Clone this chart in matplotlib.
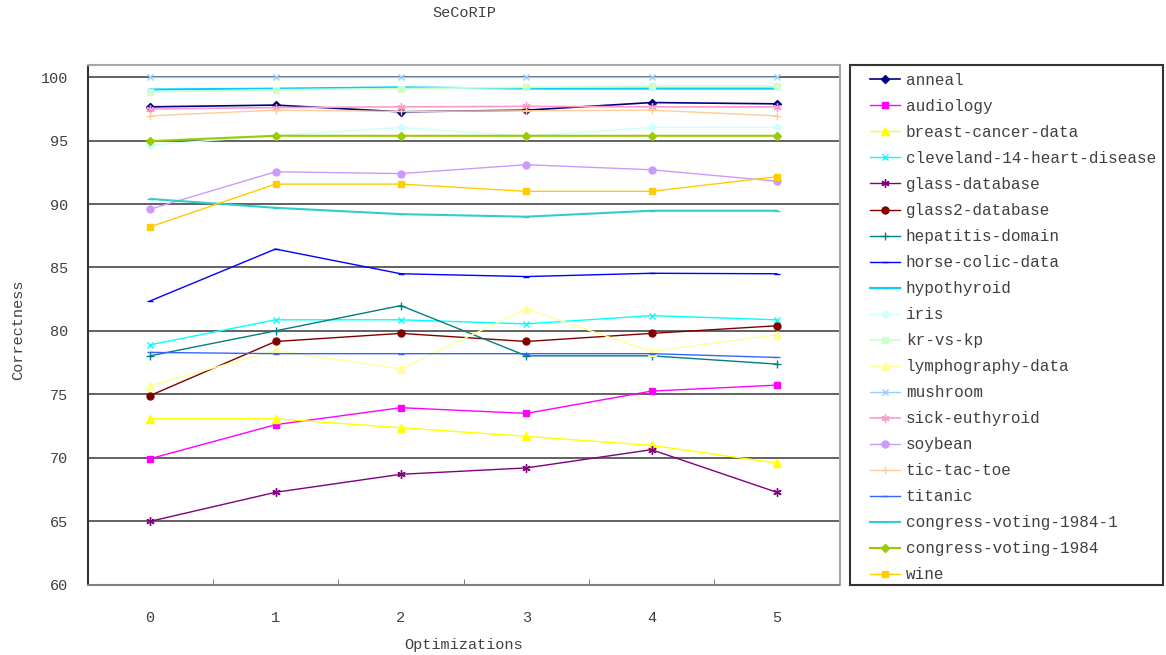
import matplotlib
matplotlib.use("Agg")
import matplotlib.pyplot as plt
from matplotlib.patches import Rectangle

# data
optimizations = [0, 1, 2, 3, 4, 5]

names = ["anneal", "audiology", "breast-cancer-data", "cleveland-14-heart-disease",
         "glass-database", "glass2-database", "hepatitis-domain", "horse-colic-data",
         "hypothyroid", "iris", "kr-vs-kp", "lymphography-data", "mushroom",
         "sick-euthyroid", "soybean", "tic-tac-toe", "titanic",
         "congress-voting-1984-1", "congress-voting-1984", "wine"]

anneal = [97.66, 97.8, 97.27, 97.4, 98.0, 97.9]
audiology = [69.92, 72.6, 73.94, 73.49, 75.25, 75.72]
breast_cancer = [73.07, 73.07, 72.36, 71.68, 70.97, 69.58]
cleveland = [78.9, 80.87, 80.87, 80.55, 81.2, 80.87]
glass = [64.98, 67.27, 68.69, 69.19, 70.63, 67.27]
glass2 = [74.9, 79.16, 79.8, 79.16, 79.8, 80.4]
hepatitis = [78.03, 80.0, 81.99, 78.03, 78.03, 77.38]
horse_colic = [82.36, 86.45, 84.5, 84.28, 84.54, 84.5]
hypothyroid = [99.03, 99.1, 99.2, 99.1, 99.1, 99.1]
iris = [94.65, 95.4, 96.04, 95.35, 96.04, 96.04]
kr_vs_kp = [98.85, 99.0, 99.1, 99.2, 99.3, 99.3]
lymphography = [75.67, 78.45, 77.0, 81.73, 78.37, 79.7]
mushroom = [100, 100, 100, 100, 100, 100]
sick_euthyroid = [97.5, 97.6, 97.66, 97.7, 97.66, 97.66]
soybean = [89.6, 92.54, 92.4, 93.1, 92.7, 91.8]
tic_tac_toe = [96.95, 97.4, 97.3, 97.35, 97.4, 96.95]
titanic = [78.3, 78.2, 78.2, 78.2, 78.2, 77.9]
congress_1 = [90.4, 89.7, 89.2, 89.0, 89.47, 89.47]
congress = [94.96, 95.38, 95.38, 95.38, 95.38, 95.38]
wine = [88.2, 91.57, 91.57, 91.0, 91.0, 92.15]

series = [anneal, audiology, breast_cancer, cleveland, glass, glass2, hepatitis,
          horse_colic, hypothyroid, iris, kr_vs_kp, lymphography, mushroom,
          sick_euthyroid, soybean, tic_tac_toe, titanic, congress_1, congress, wine]

# excel style colours / markers
colors = ["#000080", "#FF00FF", "#FFFF00", "#00FFFF", "#800080", "#800000", "#008080",
          "#0000FF", "#00CCFF", "#CCFFFF", "#CCFFCC", "#FFFF99", "#99CCFF", "#FF99CC",
          "#CC99FF", "#FFCC99", "#3366FF", "#33CCCC", "#99CC00", "#FFCC00"]
asterisk = (6, 2, 0)
markers = ["D", "s", "^", "x", asterisk, "o", "+", "_", "_", "D", "s", "^", "x",
           asterisk, "o", "+", "_", "_", "D", "s"]
msizes = [4.5, 5, 6, 5, 6, 5, 6, 5, 5, 4.5, 5, 6, 5, 6, 5, 6, 5, 5, 4.5, 5]
widths = [1.2, 1.0, 1.0, 1.0, 1.0, 1.0, 1.0, 1.0, 1.5, 1.0, 1.3, 1.0, 1.0, 1.2,
          1.0, 1.0, 1.0, 1.5, 1.5, 1.0]

font = "Liberation Mono"
plt.rcParams["font.family"] = [font, "DejaVu Sans"]

W, H = 1166, 655
fig = plt.figure(figsize=(W / 100, H / 100), dpi=100)
ax = fig.add_axes([87.5 / W, 1 - 584.5 / H, 752 / W, 520 / H])

for vals, name, c, m, ms, lw in zip(series, names, colors, markers, msizes, widths):
    ax.plot(optimizations, vals, color=c, marker=m, markersize=ms, linewidth=lw,
            markeredgewidth=1.0, markeredgecolor=c, label=name)

ax.set_xlim(-0.5, 5.5)
ax.set_ylim(60, 101)
ax.set_yticks(range(60, 101, 5))
ax.set_xticks(optimizations)
ax.set_xticks([0.5, 1.5, 2.5, 3.5, 4.5], minor=True)
ax.tick_params(axis="x", which="major", length=0, pad=19, labelsize=11, labelcolor="#404040")
ax.tick_params(axis="x", which="minor", length=4, direction="in", color="#666666")
ax.tick_params(axis="y", length=0, pad=14, labelsize=11, labelcolor="#404040")

for y in range(65, 101, 5):
    ax.axhline(y, color="#555555", linewidth=1.3, zorder=0.5)

ax.spines["left"].set_color("#333333")
ax.spines["bottom"].set_color("#808080")
ax.spines["top"].set_color("#a6a6a6")
ax.spines["right"].set_color("#a6a6a6")
for s in ax.spines.values():
    s.set_linewidth(1.5)

fig.text(464 / W, 1 - 13 / H, "SeCoRIP", ha="center", va="center", fontsize=11, color="#404040")
fig.text(464 / W, 1 - 645 / H, "Optimizations", ha="center", va="center", fontsize=11, color="#404040")
fig.text(18 / W, 1 - 330 / H, "Correctness", ha="center", va="center", rotation=90,
         fontsize=11, color="#404040")

# legend box drawn separately so the padding can match
fig.patches.append(Rectangle((849.5 / W, 1 - 584.5 / H), 313 / W, 519.5 / H,
                             transform=fig.transFigure, fill=False,
                             edgecolor="#333333", linewidth=1.5))
leg = fig.legend(loc="upper left", bbox_to_anchor=(870 / W, 1 - 73 / H), frameon=False,
                 fontsize=11.5, handlelength=1.9, handletextpad=0.35,
                 labelspacing=0.69, borderpad=0.0, borderaxespad=0.0)
for t in leg.get_texts():
    t.set_color("#404040")

fig.savefig("out.png", dpi=100)
